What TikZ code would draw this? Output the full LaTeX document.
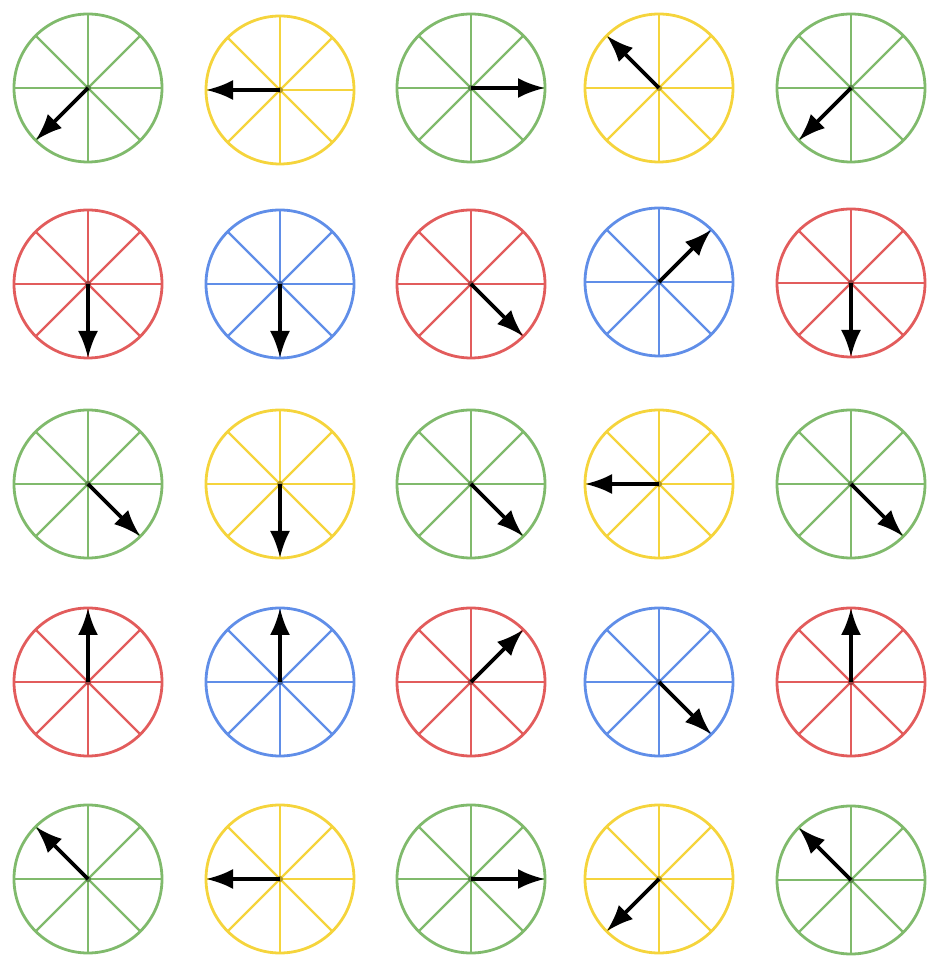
\documentclass[tikz,border=0pt]{standalone}
\usetikzlibrary{arrows.meta}
\definecolor{cg}{RGB}{128,186,108}
\definecolor{cy}{RGB}{245,212,60}
\definecolor{cr}{RGB}{226,92,92}
\definecolor{cb}{RGB}{96,142,232}
\tikzset{
  wheel/.style={line width=2.8pt},
  spoke/.style={line width=2.3pt},
  pointer/.style={line width=3.6pt, black, -{Latex[length=27pt,width=20pt]}},
}
\begin{document}
\begin{tikzpicture}[x=1pt,y=1pt]
\useasboundingbox (0,0) rectangle (927,959);
\foreach \px/\py/\c/\a [count=\i] in {
 88/871/cg/225, 280/869/cy/180, 471/871/cg/0, 659/871/cy/135, 851/871/cg/225,
 88/675/cr/270, 280/675/cb/270, 471/675/cr/315, 659/677/cb/45, 851/676/cr/270,
 88/475/cg/315, 280/475/cy/270, 471/475/cg/315, 659/475/cy/180, 851/475/cg/315,
 88/277/cr/90, 280/277/cb/90, 471/277/cr/45, 659/277/cb/315, 851/277/cr/90,
 88/80/cg/135, 280/80/cy/180, 471/80/cg/0, 659/80/cy/225, 851/79/cg/135}
{
  \coordinate (c\i) at (\px,\py);
  \draw[wheel,\c] (c\i) circle[radius=74];
  \foreach \s in {0,45,...,315}
    \draw[spoke,\c] (c\i) -- ++(\s:74);
  \fill[\c!70!black] (c\i) circle[radius=3];
  \coordinate[shift={(\a:74)}] (t\i) at (c\i);
  \draw[pointer] (c\i) -- (t\i);
}
\end{tikzpicture}
\end{document}
